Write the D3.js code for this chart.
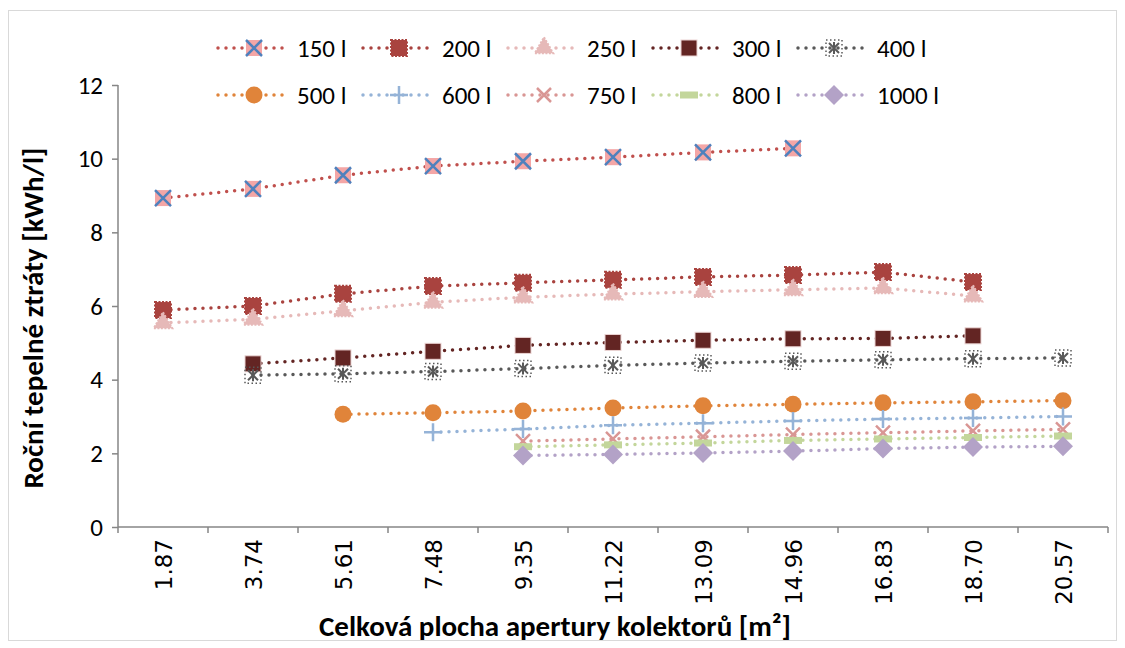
<!DOCTYPE html>
<html lang="cs">
<head>
  <meta charset="UTF-8">
  <script src="https://cdn.jsdelivr.net/npm/d3@7"></script>
  <title>Roční tepelné ztráty</title>
  <style>
    body { margin: 0; background: #fff; }
    text { font-family: Carlito, Lato, "Liberation Sans", sans-serif; fill: #000; }
  </style>
</head>
<body>
  <svg width="1125" height="648"></svg>
  <script>
    // kategorie na ose x (plocha apertury)
    var categories = ["1.87", "3.74", "5.61", "7.48", "9.35", "11.22", "13.09", "14.96", "16.83", "18.70", "20.57"]
    var yTicks = [0, 2, 4, 6, 8, 10, 12]

    // hodnoty jednotlivých řad, null = bod chybí
    var s150 = [8.93, 9.18, 9.55, 9.80, 9.93, 10.04, 10.17, 10.28, null, null, null]
    var s200 = [5.89, 6.00, 6.33, 6.54, 6.63, 6.71, 6.79, 6.84, 6.92, 6.65, null]
    var s250 = [5.54, 5.64, 5.87, 6.10, 6.24, 6.32, 6.39, 6.44, 6.49, 6.27, null]
    var s300 = [null, 4.43, 4.59, 4.77, 4.93, 5.01, 5.07, 5.11, 5.12, 5.19, null]
    var s400 = [null, 4.12, 4.16, 4.22, 4.30, 4.39, 4.45, 4.50, 4.54, 4.57, 4.59]
    var s500 = [null, null, 3.06, 3.10, 3.15, 3.23, 3.29, 3.33, 3.37, 3.40, 3.43]
    var s600 = [null, null, null, 2.57, 2.66, 2.76, 2.82, 2.88, 2.93, 2.96, 3.00]
    var s750 = [null, null, null, null, 2.33, 2.39, 2.45, 2.51, 2.56, 2.61, 2.65]
    var s800 = [null, null, null, null, 2.18, 2.23, 2.28, 2.35, 2.39, 2.43, 2.47]
    var s1000 = [null, null, null, null, 1.94, 1.97, 2.01, 2.06, 2.13, 2.17, 2.19]

    var series = [
      { name: "150 l", values: s150, color: "#C0504D", marker: "sqx" },
      { name: "200 l", values: s200, color: "#A9433F", marker: "square" },
      { name: "250 l", values: s250, color: "#E6B9B8", marker: "triangle" },
      { name: "300 l", values: s300, color: "#632523", marker: "square2" },
      { name: "400 l", values: s400, color: "#595959", marker: "star" },
      { name: "500 l", values: s500, color: "#E0843A", marker: "circle" },
      { name: "600 l", values: s600, color: "#95B3D7", marker: "plus" },
      { name: "750 l", values: s750, color: "#D99694", marker: "x" },
      { name: "800 l", values: s800, color: "#C3D69B", marker: "dash" },
      { name: "1000 l", values: s1000, color: "#B3A2C7", marker: "diamond" }
    ]

    var svg = d3.select("svg")
    var plot = { left: 118, right: 1108, top: 85, bottom: 527 }

    // rámeček grafu
    svg.append("rect")
      .attr("x", 8.5).attr("y", 10.5)
      .attr("width", 1108).attr("height", 630)
      .attr("fill", "#fff")
      .attr("stroke", "#D9D9D9")

    var x = d3.scaleBand()
      .domain(categories)
      .range([plot.left, plot.right])
    var y = d3.scaleLinear()
      .domain([0, 12])
      .range([plot.bottom, plot.top])

    // osa y
    var yAxis = svg.append("g")
      .attr("transform", "translate(" + plot.left + ",0)")
      .call(d3.axisLeft(y).tickValues(yTicks).tickSize(6).tickPadding(9))
    yAxis.selectAll("path, line").attr("stroke", "#868686").attr("stroke-width", 1.5)
    yAxis.select(".domain").attr("d", "M0," + plot.top + "V" + plot.bottom)
    yAxis.selectAll("text").style("font-size", "25px").style("font-family", "Carlito, Lato, sans-serif")

    // osa x - značky na hranicích kategorií
    var xg = svg.append("g")
    xg.append("line")
      .attr("x1", plot.left).attr("x2", plot.right)
      .attr("y1", plot.bottom).attr("y2", plot.bottom)
      .attr("stroke", "#868686").attr("stroke-width", 1.5)
    xg.selectAll(".tk")
      .data(categories.concat([null]))
      .enter().append("line")
      .attr("x1", (d, i) => plot.left + i * x.bandwidth())
      .attr("x2", (d, i) => plot.left + i * x.bandwidth())
      .attr("y1", plot.bottom).attr("y2", plot.bottom + 6)
      .attr("stroke", "#868686").attr("stroke-width", 1.5)
    xg.selectAll(".lbl")
      .data(categories)
      .enter().append("text")
      .attr("transform", d => "translate(" + (x(d) + x.bandwidth() / 2 + 9) + "," + (plot.bottom + 12) + ") rotate(-90)")
      .attr("text-anchor", "end")
      .style("font-family", "'DejaVu Sans', Verdana, sans-serif")
      .style("font-size", "23px")
      .text(d => d)

    // názvy os
    svg.append("text")
      .attr("x", 555).attr("y", 636)
      .attr("text-anchor", "middle")
      .style("font-size", "29px").style("font-weight", "bold")
      .text("Celková plocha apertury kolektorů [m²]")
    svg.append("text")
      .attr("transform", "translate(43,318) rotate(-90)")
      .attr("text-anchor", "middle")
      .style("font-size", "29px").style("font-weight", "bold")
      .text("Roční tepelné ztráty [kWh/l]")

    function drawMarker(g, s) {
      var c = s.color
      if (s.marker === "sqx") {
        g.append("rect").attr("x", -8).attr("y", -8).attr("width", 16).attr("height", 16).attr("fill", "#F4A6A6")
        g.append("path").attr("d", "M-8,-8L8,8M-8,8L8,-8").attr("stroke", "#4F81BD").attr("stroke-width", 2.5)
      } else if (s.marker === "square") {
        g.append("rect").attr("x", -8).attr("y", -8).attr("width", 16).attr("height", 16)
          .attr("fill", c).attr("stroke", c).attr("stroke-width", 2).attr("stroke-dasharray", "2 1.5")
      } else if (s.marker === "square2") {
        g.append("rect").attr("x", -8).attr("y", -8).attr("width", 16).attr("height", 16)
          .attr("fill", c).attr("stroke", "#EBD4D3").attr("stroke-width", 1)
      } else if (s.marker === "triangle") {
        g.append("path").attr("d", d3.symbol(d3.symbolTriangle, 150)())
          .attr("fill", c).attr("stroke", c).attr("stroke-width", 2).attr("stroke-dasharray", "2 1.5")
      } else if (s.marker === "star") {
        g.append("path").attr("d", "M-5,-5L5,5M-5,5L5,-5M0,-6V6")
          .attr("stroke", c).attr("stroke-width", 2)
        g.append("rect").attr("x", -8).attr("y", -8).attr("width", 16).attr("height", 16)
          .attr("fill", "none").attr("stroke", c).attr("stroke-width", 1.5).attr("stroke-dasharray", "1.5 2.5")
      } else if (s.marker === "circle") {
        g.append("circle").attr("r", 8.5).attr("fill", c)
      } else if (s.marker === "plus") {
        g.append("path").attr("d", "M-9,0H9M0,-9V9").attr("stroke", c).attr("stroke-width", 2.5)
      } else if (s.marker === "x") {
        g.append("path").attr("d", "M-7,-7L7,7M-7,7L7,-7").attr("stroke", c).attr("stroke-width", 2.5)
      } else if (s.marker === "dash") {
        g.append("rect").attr("x", -9).attr("y", -3.5).attr("width", 18).attr("height", 7).attr("fill", c)
      } else if (s.marker === "diamond") {
        g.append("path").attr("d", "M0,-10L10,0L0,10L-10,0Z").attr("fill", c)
      }
    }

    var line = d3.line()
      .defined(d => d.v !== null)
      .x(d => x(d.c) + x.bandwidth() / 2)
      .y(d => y(d.v))

    series.forEach(function (s) {
      var pts = categories.map((c, i) => ({ c: c, v: s.values[i] }))
      svg.append("path")
        .attr("d", line(pts))
        .attr("fill", "none")
        .attr("stroke", s.color)
        .attr("stroke-width", 3.5)
        .attr("stroke-linecap", "round")
        .attr("stroke-dasharray", "0 8")
      svg.selectAll(null)
        .data(pts.filter(d => d.v !== null))
        .enter().append("g")
        .attr("transform", d => "translate(" + (x(d.c) + x.bandwidth() / 2) + "," + y(d.v) + ")")
        .each(function () { drawMarker(d3.select(this), s) })
    })

    // legenda - dva řádky po pěti
    var leg = svg.selectAll(".leg")
      .data(series)
      .enter().append("g")
      .attr("transform", (d, i) => "translate(" + (218 + (i % 5) * 145) + "," + (48 + Math.floor(i / 5) * 47) + ")")
    leg.append("line")
      .attr("x1", 0).attr("x2", 70)
      .attr("stroke", d => d.color)
      .attr("stroke-width", 3.5)
      .attr("stroke-linecap", "round")
      .attr("stroke-dasharray", "0 8")
    leg.append("g")
      .attr("transform", "translate(36,0)")
      .each(function (d) { drawMarker(d3.select(this), d) })
    leg.append("text")
      .attr("x", 79).attr("dy", "0.35em")
      .style("font-size", "25px")
      .text(d => d.name)
  </script>
</body>
</html>
